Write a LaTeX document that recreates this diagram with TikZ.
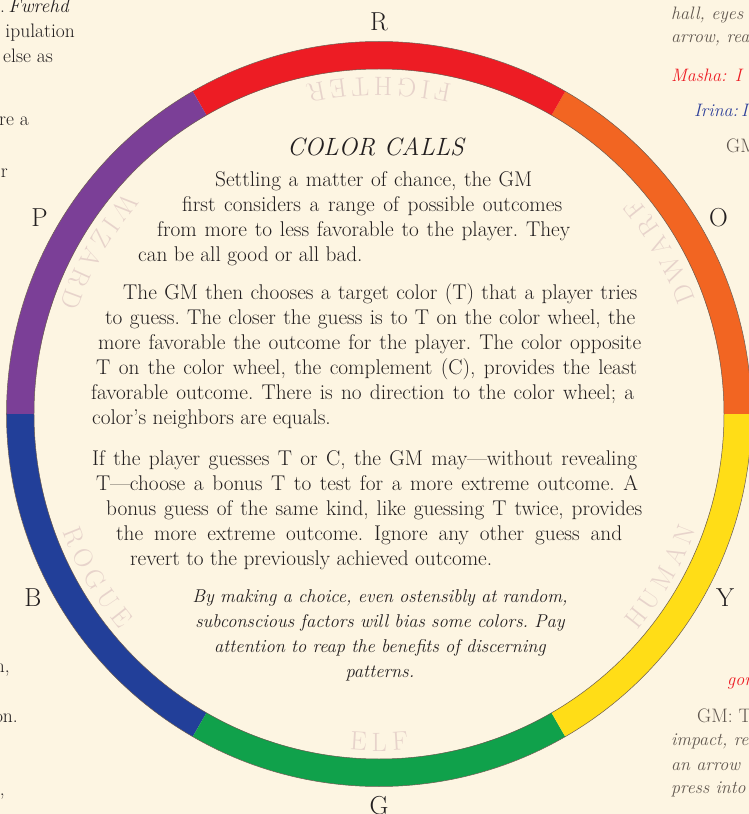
\documentclass[tikz,border=0pt]{standalone}
\usepackage{tikz}
\usetikzlibrary{decorations.text}

\definecolor{paper}{HTML}{FDF5E2}
\definecolor{ink}{HTML}{231F20}
\definecolor{classcol}{HTML}{E7D3CB}
\definecolor{ringline}{HTML}{6B5B50}
\definecolor{wRed}{HTML}{ED1C24}
\definecolor{wOrange}{HTML}{F26522}
\definecolor{wYellow}{HTML}{FFDD17}
\definecolor{wGreen}{HTML}{10A14B}
\definecolor{wBlue}{HTML}{223F99}
\definecolor{wPurple}{HTML}{7B3F97}
\definecolor{sideGray}{HTML}{615850}
\definecolor{sideRed}{HTML}{ED1C24}
\definecolor{sideBlue}{HTML}{2E409A}

\newcommand\classfont{\fontsize{26.5}{26.5}\selectfont}
\newcommand\ls{\kern5.5pt}
% justified lines cut to the wheel
\newcommand\shapedpar{\frenchspacing\tolerance=10000 \hbadness=10000 \leftskip=0pt \rightskip=0pt \parfillskip=0pt plus 1fil\relax}

\begin{document}
\begin{tikzpicture}[x=1pt, y=1pt]

\tikzstyle{rules} = [inner sep=0pt, anchor=base west, text width=560pt, align=justify, text=ink, font=\fontsize{21.3}{25}\selectfont]
\tikzstyle{colorletter} = [inner sep=0pt, text=ink, font=\fontsize{26}{26}\selectfont]
\tikzstyle{classname} = [decorate, decoration={text along path, text align=center, text color=classcol}]
\tikzstyle{margin} = [inner sep=0pt, font=\fontsize{19.5}{24}\selectfont]
\tikzstyle{marginit} = [inner sep=0pt, font=\fontsize{18}{24}\selectfont\itshape]

% Page
\path[fill=paper, use as bounding box] (-379,-400) rectangle (370,414);

% Ring
\foreach \s/\c in {0/wOrange, 60/wRed, 120/wPurple, 180/wBlue, 240/wGreen, 300/wYellow}
  \fill[\c] (\s:345) arc[start angle=\s, end angle=\s+60, radius=345]
    -- (\s+60:372.5) arc[start angle=\s+60, end angle=\s, radius=372.5] -- cycle;
\draw[ringline, line width=0.5pt] (0,0) circle[radius=345] (0,0) circle[radius=372.5];

% Colour letters
\foreach \a/\l in {90/R, 30/O, -28/Y, -90/G, 208/B, 150/P}
  \node[colorletter] (wheel-\l) at (\a:392) {\l};

% Class names
\path[classname, decoration={text={|\classfont|F{\ls}I{\ls}G{\ls}H{\ls}T{\ls}E{\ls}R}}] (60:337) arc[start angle=60, end angle=120, radius=337];
\path[classname, decoration={text={|\classfont|D{\ls}W{\ls}A{\ls}R{\ls}F}}] (0:337) arc[start angle=0, end angle=60, radius=337];
\path[classname, decoration={text={|\classfont|H{\ls}U{\ls}M{\ls}A{\ls}N}}] (-60:337) arc[start angle=-60, end angle=0, radius=337];
\path[classname, decoration={text={|\classfont|E{\ls}L{\ls}F}}] (-120:337) arc[start angle=-120, end angle=-60, radius=337];
\path[classname, decoration={text={|\classfont|R{\ls}O{\ls}G{\ls}U{\ls}E}}] (180:337) arc[start angle=180, end angle=240, radius=337];
\path[classname, decoration={text={|\classfont|W{\ls}I{\ls}Z{\ls}A{\ls}R{\ls}D}}] (120:337) arc[start angle=120, end angle=180, radius=337];

% Rules text
\node[inner sep=0pt, anchor=base, text=ink, font=\fontsize{25}{25}\selectfont\itshape] (title) at (-3.5,258) {COLOR CALLS};

\node[rules] (chance) at (-249,227) {\shapedpar
  \parshape 4 85pt 317pt 52pt 380pt 27pt 413pt 8pt 432pt
  Settling a matter of chance, the GM\break
  first considers a range of possible outcomes\break
  from more to less favorable to the player. They\break
  can be all good or all bad.\par};

\node[rules] (target) at (-291,114) {\shapedpar
  \parshape 6 35pt 514pt 17pt 530pt 10pt 543pt 8pt 541pt 3pt 543pt 4pt 540pt
  The GM then chooses a target color (T) that a player tries\break
  to guess. The closer the guess is to T on the color wheel, the\break
  more favorable the outcome for the player. The color opposite\break
  T on the color wheel, the complement (C), provides the least\break
  favorable outcome. There is no direction to the color wheel; a\break
  color’s neighbors are equals.\par};

\node[rules] (bonus) at (-291,-51) {\shapedpar
  \parshape 5 4pt 545pt 8pt 542pt 18pt 536pt 28pt 506pt 42pt 500pt
  If the player guesses T or C, the GM may---without revealing\break
  T---choose a bonus T to test for a more extreme outcome. A\break
  bonus guess of the same kind, like guessing T twice, provides\break
  the more extreme outcome. Ignore any other guess and\break
  revert to the previously achieved outcome.\par};

\node[inner sep=0pt, anchor=base, text width=440pt, align=center, text=ink, font=\fontsize{18.5}{25.3}\selectfont\itshape\frenchspacing] (advice) at (1,-188)
  {By making a choice, even ostensibly at random,\\
   subconscious factors will bias some colors. Pay\\
   attention to reap the benefits of discerning\\
   patterns.};

% Page text beside the wheel
\node[margin, text=ink, anchor=base east] (left1) at (-309,401) {.\,\textit{Fwrehd}};
\node[margin, text=ink, anchor=base east] (left2) at (-304,376) {ipulation};
\node[margin, text=ink, anchor=base east] (left3) at (-326,351) {else as};
\node[margin, text=ink, anchor=base east] (left4) at (-350,288) {re a};
\node[margin, text=ink, anchor=base east] (left5) at (-371,236) {r};
\node[margin, text=ink, anchor=base east] (left6) at (-369,-258) {n,};
\node[margin, text=ink, anchor=base east] (left7) at (-361,-308) {on.};
\node[margin, text=ink, anchor=base east] (left8) at (-374,-381) {,};

\node[marginit, text=sideGray, anchor=base west] (right1) at (292,394) {hall, eyes};
\node[marginit, text=sideGray, anchor=base west] (right2) at (292,371) {arrow, rea};
\node[marginit, text=sideRed, anchor=base west] (right3) at (292,332) {Masha: I};
\node[marginit, text=sideBlue, anchor=base west] (right4) at (315,297) {Irina:\,I};
\node[margin, text=sideGray, anchor=base west] (right5) at (347,261) {GM};
\node[marginit, text=sideRed, anchor=base west] (right6) at (348,-271) {gon};
\node[margin, text=sideGray, anchor=base west] (right7) at (318,-308) {GM: T};
\node[marginit, text=sideGray, anchor=base west] (right8) at (292,-331) {impact, re};
\node[marginit, text=sideGray, anchor=base west] (right9) at (292,-356) {an arrow};
\node[marginit, text=sideGray, anchor=base west] (right10) at (292,-379) {press into};

\end{tikzpicture}
\end{document}
